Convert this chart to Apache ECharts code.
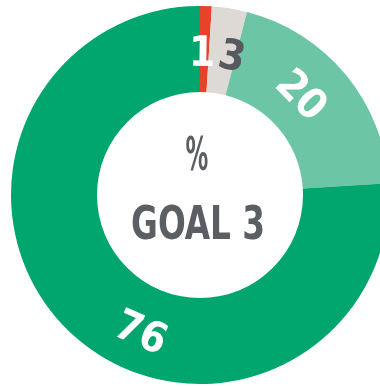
<!DOCTYPE html>
<html>
<head>
<meta charset="utf-8">
<script src="https://cdn.jsdelivr.net/npm/echarts@6/dist/echarts.min.js"></script>
<style>
  html, body { margin: 0; padding: 0; background: #ffffff; }
  #chart { width: 380px; height: 387px; }
</style>
</head>
<body>
<div id="chart"></div>
<script>
// Share of responses, in percent, drawn clockwise from 12 o'clock
const categories = ['1', '3', '20', '76'];
const values = [1, 3, 20, 76];
const sliceColors = ['#e8432a', '#ddd9d5', '#6cc5a5', '#00a66e'];
const labelColors = ['#ffffff', '#56595d', '#ffffff', '#ffffff'];
const centerTitle = '%';
const centerSubtitle = 'GOAL 3';

// Angular nudge (degrees) of each value label along the ring
const labelShift = [-1, 4, -5, -20];

const FONT = "'DejaVu Sans Condensed', 'Liberation Sans Narrow', sans-serif";
const CX = 200, CY = 195, R0 = 103, R1 = 189;

const total = values.reduce((a, b) => a + b, 0);
const starts = [];
values.reduce((acc, v) => { starts.push(acc); return acc + v; }, 0);

const chart = echarts.init(document.getElementById('chart'), null, { renderer: 'canvas' });

chart.setOption({
  animation: false,
  backgroundColor: '#ffffff',
  graphic: [
    {
      type: 'text',
      x: CX - 3, y: 158,
      scaleX: 0.55,
      style: {
        text: centerTitle,
        fill: '#5b5e62',
        font: 'bold 46px ' + FONT,
        align: 'center',
        verticalAlign: 'middle'
      }
    },
    {
      type: 'text',
      x: CX - 2, y: 227,
      scaleX: 0.79,
      style: {
        text: centerSubtitle,
        fill: '#5b5e62',
        font: 'bold 46px ' + FONT,
        align: 'center',
        verticalAlign: 'middle'
      }
    }
  ],
  series: [{
    type: 'pie',
    center: [CX, CY],
    radius: [R0, R1],
    startAngle: 90,
    clockwise: true,
    silent: true,
    avoidLabelOverlap: false,
    itemStyle: { borderWidth: 0 },
    label: {
      show: true,
      position: 'inside',
      formatter: p => categories[p.dataIndex],
      fontFamily: FONT,
      fontWeight: 'bold',
      fontSize: 42
    },
    labelLine: { show: false },
    labelLayout: function (p) {
      const i = p.dataIndex;
      const midPct = (starts[i] + values[i] / 2) / total;
      const ang = midPct * 360 + labelShift[i];
      const rad = ang * Math.PI / 180;
      // keep glyphs optically centred on the ring: nudge toward the text baseline
      const rr = (R0 + R1) / 2 + (Math.cos(rad) >= 0 ? -6 : 6);
      let rot = -ang;
      while (rot <= -90) rot += 180;
      while (rot > 90) rot -= 180;
      return {
        x: CX + rr * Math.sin(rad),
        y: CY - rr * Math.cos(rad),
        rotate: rot,
        align: 'center',
        verticalAlign: 'middle'
      };
    },
    data: values.map((v, i) => ({
      name: categories[i],
      value: v,
      itemStyle: { color: sliceColors[i] },
      label: { color: labelColors[i] }
    }))
  }]
});
</script>
</body>
</html>
